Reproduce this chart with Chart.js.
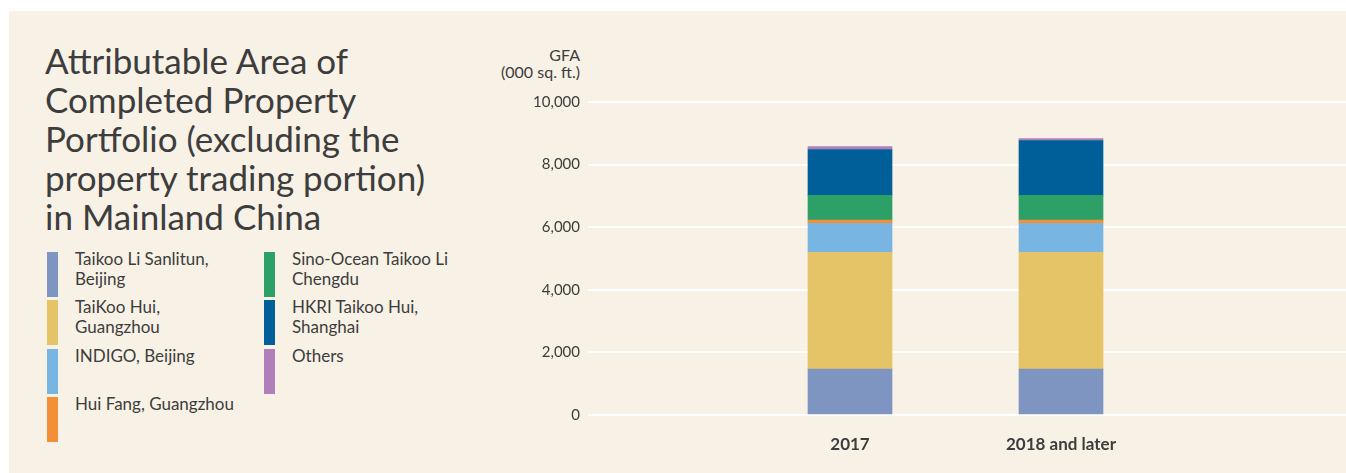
<!DOCTYPE html>
<html>
<head>
<meta charset="utf-8">
<script src="https://cdn.jsdelivr.net/npm/chart.js@4.4.1/dist/chart.umd.min.js"></script>
<style>
  body { margin: 0; background: #fff; font-family: Lato, sans-serif; color: #3d3d3d; }
  #panel { position: absolute; left: 9px; top: 11px; width: 1337px; height: 462px; background: #f8f1e6; overflow: hidden; }
  #title { position: absolute; left: 36px; top: 30px; margin: 0; font-size: 35px; line-height: 39px; font-weight: normal; }
  #legend { position: absolute; left: 38px; top: 241px; display: grid; grid-template-columns: 217px 217px;
            grid-template-rows: repeat(4, 48.3px); grid-auto-flow: column; }
  .item { position: relative; }
  .swatch { position: absolute; left: 0; top: 0; width: 11px; height: 45px; }
  .label { position: absolute; left: 28px; top: -3px; font-size: 17px; line-height: 20px; white-space: pre; }
  #yTitle { position: absolute; right: 766px; top: 35px; text-align: right; font-size: 16px; line-height: 17px; white-space: pre; }
  #chartBox { position: absolute; left: 471px; top: 0; width: 866px; height: 462px; }
</style>
</head>
<body>
<div id="panel">
  <h1 id="title">Attributable Area of<br>Completed Property<br>Portfolio (excluding the<br>property trading portion)<br>in Mainland China</h1>
  <div id="legend"></div>
  <div id="yTitle">GFA
(000 sq. ft.)</div>
  <div id="chartBox"><canvas id="gfaChart"></canvas></div>
</div>
<script>
// values, 000 sq. ft.
var categories = ['2017', '2018 and later'];
var seriesNames = ['Taikoo Li Sanlitun,\nBeijing', 'TaiKoo Hui,\nGuangzhou', 'INDIGO, Beijing', 'Hui Fang, Guangzhou',
                   'Sino-Ocean Taikoo Li\nChengdu', 'HKRI Taikoo Hui,\nShanghai', 'Others'];
var seriesColors = ['#7e95c1', '#e5c468', '#79b5e3', '#f39036', '#2ca066', '#005e98', '#b07fbb'];
var sanlitun = [1465, 1465];
var taikooHui = [3731, 3731];
var indigo = [930, 930];
var huiFang = [100, 100];
var chengdu = [790, 790];
var hkri = [1467, 1754];
var others = [95, 65];
var yTicks = [0, 2000, 4000, 6000, 8000, 10000];

var seriesValues = [sanlitun, taikooHui, indigo, huiFang, chengdu, hkri, others];

// html legend, filled column by column
var legend = document.getElementById('legend');
seriesNames.forEach(function (name, i) {
  var item = document.createElement('div');
  item.className = 'item';
  item.innerHTML = '<span class="swatch" style="background:' + seriesColors[i] + '"></span><span class="label"></span>';
  item.querySelector('.label').textContent = name;
  legend.appendChild(item);
});

Chart.defaults.font.family = 'Lato, sans-serif';
Chart.defaults.color = '#3d3d3d';

var ctx = document.getElementById('gfaChart').getContext('2d');
var chart = new Chart(ctx, {
  type: 'bar',
  data: {
    datasets: seriesValues.map(function (values, i) {
      return {
        label: seriesNames[i],
        backgroundColor: seriesColors[i],
        borderWidth: 0,
        barThickness: 84,
        data: values.map(function (v, j) { return { x: j, y: v }; })
      };
    })
  },
  options: {
    responsive: true,
    maintainAspectRatio: false,
    animation: false,
    layout: { padding: { top: 91, left: 0, right: 0, bottom: 0 } },
    plugins: { legend: { display: false }, tooltip: { enabled: false } },
    scales: {
      x: {
        type: 'linear',
        stacked: true,
        offset: false,
        min: -1.2417,
        max: 2.3507,
        grid: { display: false },
        border: { display: false },
        afterBuildTicks: function (scale) {
          scale.ticks = categories.map(function (c, i) { return { value: i }; });
        },
        afterFit: function (scale) { scale.height = 58; },
        ticks: {
          autoSkip: false,
          maxRotation: 0,
          padding: 11,
          font: { size: 17, weight: 'bold' },
          callback: function (v) { return categories[v]; }
        }
      },
      y: {
        stacked: true,
        min: 0,
        max: 10000,
        grid: { color: '#ffffff', lineWidth: 2, drawTicks: false },
        border: { display: false },
        afterBuildTicks: function (scale) {
          scale.ticks = yTicks.map(function (v) { return { value: v }; });
        },
        afterFit: function (scale) { scale.width = 108; },
        ticks: { padding: 8, font: { size: 15 } }
      }
    }
  }
});
</script>
</body>
</html>
